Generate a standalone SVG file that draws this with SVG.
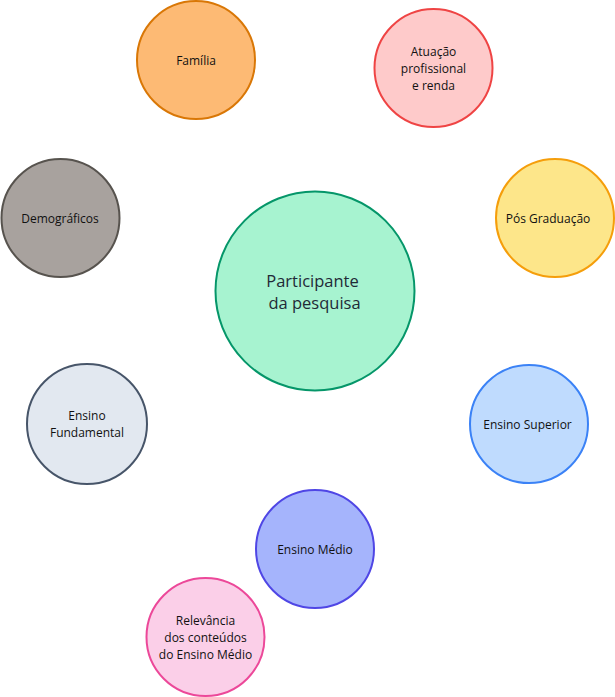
<svg xmlns="http://www.w3.org/2000/svg" width="615" height="697" viewBox="0 0 615 697">
<style>
circle{stroke-width:2}
text{font-family:"Open Sans","Noto Sans","Liberation Sans",sans-serif;font-size:12px;font-weight:500;fill:#111111;text-anchor:middle}
.big{font-size:16.5px;fill:#1f2a37}
</style>
<rect width="615" height="697" fill="#ffffff"/>
<g id="participante">
<circle cx="315" cy="291" r="99.5" fill="#a7f3d0" stroke="#059669"/>
<text class="big" x="312.5" y="287">Participante</text>
<text class="big" x="314.5" y="309">da pesquisa</text>
</g>
<g id="familia">
<circle cx="196" cy="60" r="59" fill="#fdba74" stroke="#d97706"/>
<text x="196" y="65">Família</text>
</g>
<g id="atuacao">
<circle cx="433.5" cy="68" r="59" fill="#fecaca" stroke="#ef4444"/>
<text x="433.5" y="56">Atuação</text>
<text x="433.5" y="73">profissional</text>
<text x="433.5" y="90">e renda</text>
</g>
<g id="demograficos">
<circle cx="60.5" cy="218" r="59" fill="#a8a29e" stroke="#57534e" stroke-width="1.5"/>
<text x="60" y="223">Demográficos</text>
</g>
<g id="posgraduacao">
<circle cx="555" cy="218" r="59" fill="#fde68a" stroke="#f59e0b"/>
<text x="548" y="223">Pós Graduação</text>
</g>
<g id="fundamental">
<circle cx="87" cy="424" r="60" fill="#e2e8f0" stroke="#475569" stroke-width="1"/>
<text x="87" y="420">Ensino</text>
<text x="87" y="437">Fundamental</text>
</g>
<g id="superior">
<circle cx="529" cy="424" r="59" fill="#bfdbfe" stroke="#3b82f6"/>
<text x="527.5" y="429">Ensino Superior</text>
</g>
<g id="medio">
<circle cx="315" cy="549" r="59" fill="#a5b4fc" stroke="#4f46e5"/>
<text x="315" y="554">Ensino Médio</text>
</g>
<g id="relevancia">
<circle cx="205.5" cy="637" r="59" fill="#fbcfe8" stroke="#ec4899"/>
<text x="205.5" y="625">Relevância</text>
<text x="205.5" y="642">dos conteúdos</text>
<text x="205.5" y="659">do Ensino Médio</text>
</g>
<g id="connectors"></g>
</svg>
